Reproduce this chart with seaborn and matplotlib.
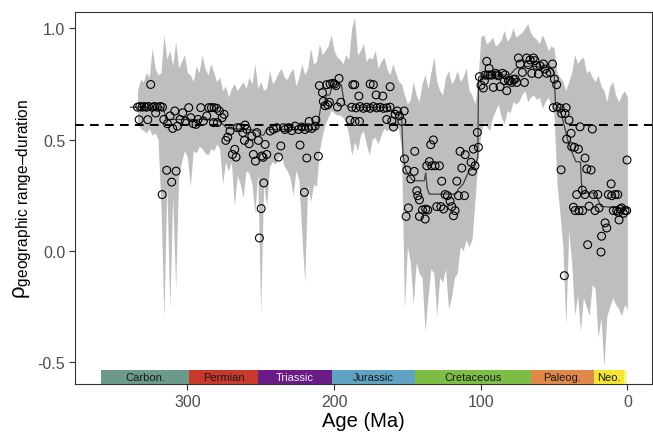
import numpy as np
import pandas as pd
import matplotlib
matplotlib.use("Agg")
import matplotlib.pyplot as plt
import seaborn as sns

# ── Data ────────────────────────────────────────────────────────────────────
# ribbon: age (Ma), upper and lower bound
rib_age = [334, 332, 330, 328, 326, 324, 322, 320, 318, 316,
           314, 312, 310, 308, 306, 304, 302, 300, 298, 296,
           294, 292, 290, 288, 286, 284, 282, 280, 278, 276,
           274, 272, 270, 268, 266, 264, 262, 260, 258, 256,
           254, 252, 250, 248, 246, 244, 242, 240, 238, 236,
           234, 232, 230, 228, 226, 224, 222, 220, 218, 216,
           214, 212, 210, 208, 206, 204, 202, 200, 198, 196,
           194, 192, 190, 188, 186, 184, 182, 180, 178, 176,
           174, 172, 170, 168, 166, 164, 162, 160, 158, 156,
           154, 152, 150, 148, 146, 144, 142, 140, 138, 136,
           134, 132, 130, 128, 126, 124, 122, 120, 118, 116,
           114, 112, 110, 108, 106, 104, 102, 100, 98, 96,
           94, 92, 90, 88, 86, 84, 82, 80, 78, 76,
           74, 72, 70, 68, 66, 64, 62, 60, 58, 56,
           54, 52, 50, 48, 46, 44, 42, 40, 38, 36,
           34, 32, 30, 28, 26, 24, 22, 20, 18, 16,
           14, 12, 10, 8, 6, 4, 2, 0]
rib_hi = [0.72, 0.77, 0.76, 0.80, 0.78, 0.91, 0.82, 0.79, 0.80, 0.97,
          0.86, 0.90, 0.83, 0.94, 0.82, 0.85, 0.88, 0.80, 0.79, 0.76,
          0.83, 0.80, 0.88, 0.82, 0.79, 0.84, 0.80, 0.76, 0.78, 0.72,
          0.74, 0.69, 0.73, 0.75, 0.72, 0.74, 0.76, 0.73, 0.78, 0.75,
          0.84, 0.73, 0.76, 0.72, 0.73, 0.81, 0.75, 0.77, 0.80, 0.82,
          0.78, 0.77, 0.80, 0.82, 0.74, 0.78, 0.84, 0.79, 0.82, 0.91,
          0.84, 0.85, 0.93, 0.88, 0.90, 0.92, 0.97, 0.90, 0.87, 0.86,
          0.84, 0.88, 0.86, 1.00, 1.05, 0.88, 0.90, 0.93, 0.85, 0.87,
          0.86, 0.90, 0.82, 0.85, 0.87, 0.82, 0.79, 0.84, 0.80, 0.76,
          0.75, 0.70, 0.66, 0.68, 0.76, 0.70, 0.67, 0.75, 0.79, 0.73,
          0.80, 0.87, 0.76, 0.72, 0.70, 0.78, 0.81, 0.75, 0.77, 0.81,
          0.76, 0.78, 0.82, 0.72, 0.70, 0.66, 0.75, 0.96, 0.97, 0.93,
          0.94, 0.96, 0.92, 0.93, 0.95, 0.99, 0.94, 0.96, 1.00, 0.96,
          0.97, 0.98, 1.00, 1.02, 0.98, 0.96, 0.95, 0.93, 0.97, 0.94,
          0.90, 0.92, 0.91, 0.80, 0.78, 0.76, 0.72, 0.76, 0.80, 0.88,
          0.84, 0.86, 0.87, 0.80, 0.81, 0.78, 0.76, 0.79, 0.74, 0.72,
          0.67, 0.74, 0.76, 0.70, 0.67, 0.70, 0.72, 0.69]
rib_lo = [0.58, 0.55, 0.54, 0.53, 0.55, 0.52, 0.53, 0.50, 0.20, -0.30,
          0.30, -0.26, 0.25, -0.17, 0.33, 0.40, 0.45, 0.42, 0.29, 0.45,
          0.44, 0.47, 0.46, 0.44, 0.43, 0.46, 0.45, 0.48, 0.46, 0.30,
          0.40, 0.36, 0.40, 0.20, 0.34, 0.30, 0.24, 0.36, 0.35, 0.30,
          0.17, 0.35, -0.28, 0.30, 0.20, 0.38, 0.40, 0.39, 0.42, 0.43,
          0.38, 0.36, 0.33, 0.25, 0.36, 0.32, 0.08, -0.14, 0.30, 0.22,
          0.30, 0.29, 0.45, 0.52, 0.57, 0.60, 0.63, 0.62, 0.61, 0.61,
          0.60, 0.58, 0.52, 0.43, 0.49, 0.45, 0.52, 0.54, 0.48, 0.43,
          0.50, 0.51, 0.48, 0.52, 0.55, 0.54, 0.55, 0.54, 0.55, 0.55,
          0.45, -0.26, 0.02, -0.05, -0.24, -0.05, -0.10, -0.12, -0.36, -0.21,
          -0.08, -0.10, -0.29, -0.12, -0.14, -0.08, -0.26, -0.21, -0.12, -0.10,
          0.02, 0.00, 0.05, 0.02, 0.05, 0.22, 0.40, 0.52, 0.58, 0.56,
          0.54, 0.60, 0.63, 0.66, 0.60, 0.57, 0.63, 0.62, 0.67, 0.66,
          0.67, 0.70, 0.72, 0.67, 0.69, 0.70, 0.68, 0.69, 0.64, 0.67,
          0.69, 0.65, 0.61, 0.30, 0.17, 0.02, -0.33, 0.09, -0.05, -0.29,
          -0.20, -0.36, -0.21, -0.25, -0.29, -0.15, -0.17, -0.39, -0.30, -0.52,
          -0.29, -0.25, -0.21, -0.24, -0.26, -0.29, -0.24, -0.26]

# trend line
line_age = [339, 316.5, 314.5, 300, 290, 279, 276, 273, 260, 252,
            250, 248, 246, 212.5, 211, 209, 207, 205, 203, 201,
            197, 195, 193, 190, 162, 160, 154, 153, 151, 148,
            146, 138.5, 137.5, 136.5, 135, 117, 115, 112, 108, 105,
            103, 102, 101.5, 95, 80, 76, 66, 52, 50, 49,
            46, 43, 40, 37, 35, 32, 31, 22, 20, 18, 0]
line_rho = [0.645, 0.645, 0.59, 0.59, 0.59, 0.585, 0.57, 0.55, 0.545, 0.54,
            0.52, 0.52, 0.545, 0.545, 0.57, 0.65, 0.66, 0.70, 0.70, 0.745,
            0.75, 0.745, 0.66, 0.645, 0.645, 0.62, 0.62, 0.43, 0.36, 0.33,
            0.315, 0.315, 0.35, 0.28, 0.255, 0.255, 0.28, 0.30, 0.36, 0.37,
            0.40, 0.42, 0.78, 0.79, 0.79, 0.82, 0.83, 0.82, 0.80, 0.66,
            0.64, 0.56, 0.48, 0.43, 0.40, 0.40, 0.26, 0.26, 0.23, 0.20, 0.19]

# per-bin points
pt_age = [334, 332.5, 331, 329.5, 328, 326.5, 324, 322.5, 320.5, 318.5, 317,
          325.0, 332.9, 327.0, 321.6, 317.2, 314.1, 310.7, 307.7, 316.1, 313.6,
          311.8, 310.0, 308.6, 306.8, 305.0, 303.2, 301.3, 299.1, 297.7, 295.9,
          294.1, 292.7, 290.9, 289.1, 286.8, 285.4, 283.6, 281.8, 280.0, 278.2,
          282.2, 279.5, 276.3, 275.0, 273.8, 272.5, 270.9, 269.3, 267.7, 266.8,
          265.9, 264.1, 262.2, 260.6, 261.1, 259.5, 257.9, 256.1, 255.0, 253.6,
          252.7, 251.6, 250.9, 249.7, 249.3, 247.9, 247.0, 245.9, 248.4, 243.6,
          241.3, 239.1, 237.9, 236.3, 234.5,
          233.4, 231.1, 228.8, 226.6, 224.3, 222.0, 219.8, 217.5, 215.2, 212.9,
          223.2, 218.6, 210.7, 220.2, 217.0, 212.4,
          210.0, 207.9, 207.3, 206.1, 204.3, 203.2, 205.0, 202.7, 200.9, 199.7,
          198.6, 196.6, 197.7, 195.4,
          189.1, 185.7, 182.7, 187.2, 185.9, 183.1, 175.4, 173.2, 171.3, 166.8, 161.8,
          187.9, 185.0, 182.2, 180.0, 177.7, 175.4, 173.2, 170.9, 168.6, 166.3, 164.1, 161.8,
          164.1, 160.6, 159.5, 158.4, 156.8, 155.4, 153.8, 152.2, 152.0, 150.4,
          147.7, 145.4, 145.0, 143.6, 142.9, 141.8, 149.3, 150.9, 141.8, 139.7,
          137.9, 137.5, 136.1, 136.8, 135.0, 134.1, 132.3, 133.4, 131.1, 128.2,
          126.6, 130.0, 127.2, 125.4, 124.3, 122.7, 120.9, 119.7, 118.6, 117.5,
          116.3, 115.2, 114.1, 112.9, 111.1, 110.6,
          106.6, 105.7, 105.0, 103.9, 101.6, 102.3, 100.9, 99.8, 98.2, 97.5,
          95.9, 94.3, 95.2, 92.5, 91.4, 89.8, 88.0, 86.8, 85.2, 83.9,
          82.3, 81.1, 78.9, 76.6, 75.5, 74.3, 73.2, 71.6, 70.2, 68.7,
          67.5, 66.4, 65.2, 64.1, 63.0, 61.8, 60.7, 59.6, 57.3, 56.2,
          55.0, 52.7, 51.1, 49.8, 48.2, 97.1, 93.7, 89.1, 83.4, 80.0, 77.7,
          50.5, 48.0, 45.9, 44.8, 42.5, 41.8, 45.2, 43.0, 39.8, 38.4,
          41.4, 38.0, 36.1, 33.4, 32.3, 28.9, 27.7, 24.8, 23.9, 30.7,
          34.6, 36.8, 35.7, 33.0, 30.5, 28.9, 27.1, 26.1, 23.2, 22.1,
          20.2, 19.3, 18.0, 17.6, 15.2, 14.1, 13.0, 11.1, 10.7, 8.4,
          6.6, 9.6, 7.3, 5.7, 5.0, 3.9, 2.7, 1.6, 0.5, 0.3, 6.2]
pt_rho = [0.645, 0.648, 0.645, 0.648, 0.645, 0.648, 0.645, 0.648, 0.645, 0.648, 0.645,
          0.747, 0.589, 0.589, 0.619, 0.253, 0.362, 0.309, 0.358, 0.590, 0.571,
          0.606, 0.550, 0.628, 0.560, 0.590, 0.620, 0.583, 0.643, 0.598, 0.571,
          0.568, 0.590, 0.643, 0.583, 0.606, 0.643, 0.643, 0.643, 0.640, 0.628,
          0.576, 0.576, 0.598, 0.613, 0.496, 0.511, 0.538, 0.433, 0.456, 0.421,
          0.553, 0.553, 0.531, 0.565, 0.496, 0.546, 0.481, 0.516, 0.433, 0.403,
          0.531, 0.496, 0.058, 0.190, 0.426, 0.305, 0.478, 0.433, 0.420, 0.538,
          0.546, 0.553, 0.421, 0.471, 0.553,
          0.545, 0.553, 0.540, 0.560, 0.545, 0.556, 0.545, 0.553, 0.550, 0.560,
          0.475, 0.417, 0.425, 0.263, 0.581, 0.587,
          0.742, 0.710, 0.671, 0.652, 0.656, 0.667, 0.746, 0.749, 0.752, 0.749,
          0.742, 0.774, 0.646, 0.667,
          0.587, 0.581, 0.581, 0.746, 0.746, 0.695, 0.749, 0.746, 0.700, 0.695, 0.737,
          0.645, 0.642, 0.648, 0.640, 0.645, 0.640, 0.648, 0.642, 0.645, 0.640, 0.642, 0.645,
          0.590, 0.583, 0.556, 0.613, 0.628, 0.606, 0.581, 0.628, 0.413, 0.363,
          0.323, 0.357, 0.447, 0.270, 0.248, 0.229, 0.193, 0.155, 0.155, 0.184,
          0.143, 0.188, 0.184, 0.382, 0.401, 0.477, 0.498, 0.382, 0.382, 0.382,
          0.313, 0.199, 0.199, 0.188, 0.253, 0.248, 0.223, 0.199, 0.158, 0.181,
          0.313, 0.248, 0.447, 0.372, 0.248, 0.432,
          0.398, 0.357, 0.457, 0.382, 0.465, 0.532, 0.782, 0.744, 0.731, 0.764,
          0.851, 0.819, 0.789, 0.789, 0.734, 0.797, 0.786, 0.737, 0.797, 0.764,
          0.719, 0.764, 0.756, 0.771, 0.756, 0.866, 0.839, 0.801, 0.756, 0.866,
          0.836, 0.857, 0.797, 0.866, 0.854, 0.831, 0.794, 0.831, 0.839, 0.816,
          0.797, 0.801, 0.839, 0.771, 0.746, 0.789, 0.790, 0.790, 0.790, 0.764, 0.770,
          0.643, 0.647, 0.641, 0.617, 0.617, 0.643, 0.364, -0.111, 0.587, 0.528,
          0.502, 0.468, 0.465, 0.457, 0.557, 0.417, 0.368, 0.363, 0.547, 0.273,
          0.253, 0.196, 0.181, 0.181, 0.181, 0.253, 0.028, 0.201, 0.253, 0.181,
          0.253, 0.193, -0.005, 0.066, 0.126, 0.103, 0.253, 0.301, 0.248, 0.253,
          0.253, 0.181, 0.181, 0.139, 0.188, 0.193, 0.169, 0.181, 0.181, 0.408, 0.173]

# geological periods
period_names = ["Carbon.", "Permian", "Triassic", "Jurassic", "Cretaceous",
                "Paleog.", "Neo.", ""]
period_start = [358.9, 298.9, 251.9, 201.4, 145.0, 66.0, 23.03, 2.58]
period_end = [298.9, 251.9, 201.4, 145.0, 66.0, 23.03, 2.58, 0.0]
period_colors = ["#6b9a8b", "#c8392c", "#6a1b86", "#5fa2c2", "#7dbd45",
                 "#e0884a", "#f3e632", "#f7f58c"]
period_text = ["#1a1a1a", "#1a1a1a", "#f0f0f0", "#1a1a1a", "#1a1a1a",
               "#1a1a1a", "#1a1a1a", "#1a1a1a"]

mean_rho = 0.565

# ── Plot ────────────────────────────────────────────────────────────────────
sns.set_theme(style="white")
plt.rcParams["font.family"] = ["Liberation Sans", "DejaVu Sans"]
plt.rcParams["mathtext.fontset"] = "custom"
plt.rcParams["mathtext.rm"] = "Liberation Sans"
plt.rcParams["mathtext.it"] = "Liberation Sans:italic"

fig = plt.figure(figsize=(6.53, 4.35), dpi=100)
ax = fig.add_axes([0.1149, 0.115, 0.8841, 0.855])

ax.fill_between(rib_age, rib_lo, rib_hi, color="#bebebe", linewidth=0, zorder=1)

line_df = pd.DataFrame({"age": line_age, "rho": line_rho})
sns.lineplot(data=line_df, x="age", y="rho", ax=ax, color="#404040",
             linewidth=0.9, estimator=None, zorder=2)

pts = pd.DataFrame({"age": pt_age, "rho": pt_rho})
sns.scatterplot(data=pts, x="age", y="rho", ax=ax, marker="o", s=32,
                facecolors="none", edgecolor="black", linewidth=0.8, zorder=3)

ax.axhline(mean_rho, color="black", linewidth=1.4, linestyle=(0, (4.5, 3.2)), zorder=4)

# time scale
y0, y1 = -0.597, -0.534
for nm, s, e, c, tc in zip(period_names, period_start, period_end,
                           period_colors, period_text):
    ax.bar((s + e) / 2, y1 - y0, width=s - e, bottom=y0, color=c,
           linewidth=0, zorder=5)
    if nm:
        ax.text((s + e) / 2, (y0 + y1) / 2, nm, ha="center", va="center",
                fontsize=8, color=tc, zorder=6)

ax.set_xlim(376.6, -17.0)
ax.set_ylim(-0.597, 1.072)
ax.set_xticks([300, 200, 100, 0])
ax.set_yticks([-0.5, 0.0, 0.5, 1.0])
ax.set_yticklabels(["-0.5", "0.0", "0.5", "1.0"])

ax.tick_params(axis="both", which="major", direction="out", length=4, width=0.8,
               color="#333333", labelcolor="#4d4d4d", labelsize=11.5, pad=3,
               bottom=True, left=True)
for sp in ax.spines.values():
    sp.set_color("#333333")
    sp.set_linewidth(0.8)

ax.set_xlabel("Age (Ma)", fontsize=14.5, color="black", labelpad=2)
ax.set_ylabel("$\\mathregular{\u03c1_{geographic\\ range\u2013duration}}$",
              fontsize=16, color="black", labelpad=3)

fig.savefig("out.png", dpi=100)
